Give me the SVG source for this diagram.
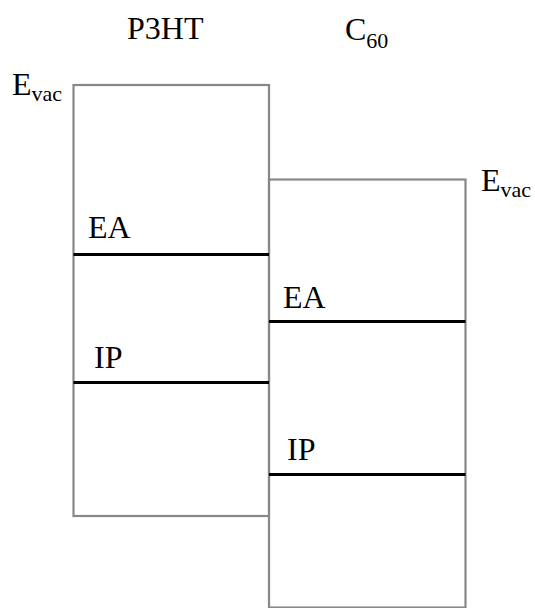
<svg xmlns="http://www.w3.org/2000/svg" width="535" height="608" viewBox="0 0 535 608">
<style>
text{font-family:'Liberation Serif','Times New Roman',serif;font-size:32px;fill:#000}
.sub{font-size:22px}
.box{fill:none;stroke:#888;stroke-width:2.2}
.lvl{stroke:#000;stroke-width:2.8}
</style>
<rect width="535" height="608" fill="#fff"/>
<g id="p3ht">
<text x="127" y="39">P3HT</text>
<rect class="box" x="73.5" y="85" width="195.5" height="431"/>
<text x="12" y="95">E<tspan class="sub" dy="6">vac</tspan></text>
</g>
<g id="c60">
<text x="345" y="40">C<tspan class="sub" dy="8">60</tspan></text>
<rect class="box" x="269" y="179.5" width="196.5" height="428"/>
<text x="481" y="191">E<tspan class="sub" dy="6">vac</tspan></text>
</g>
<g id="p3ht-ea">
<line class="lvl" x1="73.5" y1="254.5" x2="269" y2="254.5"/>
<text x="88" y="238">EA</text>
</g>
<g id="p3ht-ip">
<line class="lvl" x1="73.5" y1="382.5" x2="269" y2="382.5"/>
<text x="94" y="368">IP</text>
</g>
<g id="c60-ea">
<line class="lvl" x1="269" y1="321.5" x2="465.5" y2="321.5"/>
<text x="283" y="308">EA</text>
</g>
<g id="c60-ip">
<line class="lvl" x1="269" y1="474.5" x2="465.5" y2="474.5"/>
<text x="287" y="460">IP</text>
</g>
</svg>
